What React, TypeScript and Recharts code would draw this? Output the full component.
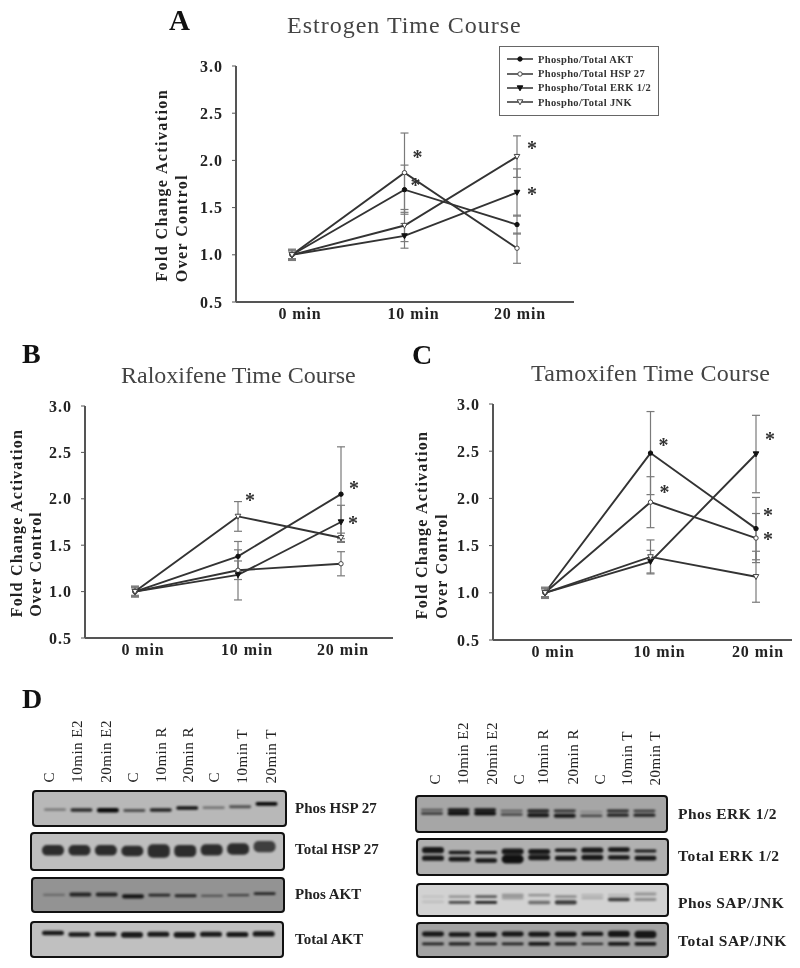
import React from "react";
import { LineChart, Line, XAxis, YAxis, ErrorBar, ReferenceDot, Legend, BarChart, Bar, Cell } from "recharts";

const SERIF = "'Liberation Serif', serif";
const INK = "#222";

const times = ["0 min", "10 min", "20 min"];
const foldTicks = [0.5, 1, 1.5, 2, 2.5, 3];

// panel A
const estrogenAkt = [1, 1.69, 1.32];
const estrogenAktErr = [0.05, 0.26, 0.1];
const estrogenHsp = [1, 1.87, 1.07];
const estrogenHspErr = [0.05, 0.42, 0.16];
const estrogenErk = [1, 1.2, 1.66];
const estrogenErkErr = [0.04, 0.13, 0.25];
const estrogenJnk = [1, 1.31, 2.04];
const estrogenJnkErr = [0.06, 0.17, 0.22];
const estrogenStarTimes = ["10 min", "10 min", "20 min", "20 min"];
const estrogenStarValues = [2.06, 1.76, 2.15, 1.67];

// panel B
const raloxAkt = [1, 1.38, 2.05];
const raloxAktErr = [0.05, 0.16, 0.51];
const raloxHsp = [1, 1.23, 1.3];
const raloxHspErr = [0.05, 0.1, 0.13];
const raloxErk = [1, 1.18, 1.75];
const raloxErkErr = [0.04, 0.27, 0.18];
const raloxJnk = [1, 1.81, 1.58];
const raloxJnkErr = [0.06, 0.16, 0.05];
const raloxStarTimes = ["10 min", "20 min", "20 min"];
const raloxStarValues = [2.01, 2.14, 1.76];

// panel C
const tamoxAkt = [1, 2.48, 1.68];
const tamoxAktErr = [0.05, 0.44, 0.33];
const tamoxHsp = [1, 1.96, 1.58];
const tamoxHspErr = [0.05, 0.27, 0.26];
const tamoxErk = [1, 1.33, 2.47];
const tamoxErkErr = [0.04, 0.12, 0.41];
const tamoxJnk = [1, 1.38, 1.17];
const tamoxJnkErr = [0.06, 0.18, 0.27];
const tamoxStarTimes = ["10 min", "10 min", "20 min", "20 min", "20 min"];
const tamoxStarValues = [2.59, 2.09, 2.65, 1.85, 1.59];

const seriesNames = ["Phospho/Total AKT", "Phospho/Total HSP 27", "Phospho/Total ERK 1/2", "Phospho/Total JNK"];
const seriesKeys = ["akt", "hsp", "erk", "jnk"];

// panel D: each band is [position in blot, thickness, darkness], one value per lane
const laneLabels = ["C", "10min E2", "20min E2", "C", "10min R", "20min R", "C", "10min T", "20min T"];
const phosHsp27 = [[
  [45, 44, 43, 42, 44, 50, 51, 54, 63],
  [7, 11, 14, 9, 11, 11, 7, 9, 12],
  [0.4, 0.8, 1, 0.6, 0.85, 0.95, 0.45, 0.6, 1],
]];
const totalHsp27 = [[
  [52, 52, 52, 50, 50, 50, 53, 56, 63],
  [31, 31, 31, 31, 39, 36, 33, 34, 33],
  [0.8, 0.8, 0.8, 0.8, 0.8, 0.8, 0.8, 0.8, 0.7],
]];
const phosAkt = [[
  [49, 50, 50, 44, 48, 46, 46, 48, 53],
  [7, 13, 13, 13, 9, 9, 7, 7, 9],
  [0.3, 0.8, 0.8, 0.9, 0.8, 0.8, 0.5, 0.6, 0.8],
]];
const totalAkt = [[
  [69, 64, 65, 63, 65, 63, 65, 64, 66],
  [14, 14, 14, 18, 16, 18, 16, 16, 16],
  [0.9, 0.9, 0.9, 0.9, 0.9, 0.9, 0.9, 0.9, 0.9],
]];
const phosErk = [
  [
    [61, 61, 61, 58, 58, 58, 55, 58, 58],
    [7, 10, 10, 6, 10, 8, 4, 8, 7],
    [0.5, 0.9, 0.9, 0.5, 0.85, 0.75, 0.3, 0.8, 0.75],
  ],
  [
    [50, 50, 50, 47, 45, 43, 43, 45, 45],
    [7, 12, 12, 8, 12, 12, 6, 10, 10],
    [0.75, 0.95, 0.95, 0.65, 0.9, 0.9, 0.75, 0.85, 0.85],
  ],
];
const totalErk = [
  [
    [69, 62, 62, 65, 65, 69, 69, 71, 67],
    [19, 11, 9, 18, 16, 11, 16, 14, 9],
    [0.9, 0.9, 0.9, 0.9, 0.9, 0.9, 0.9, 0.9, 0.9],
  ],
  [
    [45, 42, 38, 42, 47, 45, 47, 47, 45],
    [16, 14, 14, 27, 16, 14, 16, 14, 14],
    [0.9, 0.9, 0.9, 0.95, 0.9, 0.9, 0.9, 0.9, 0.9],
  ],
];
const phosSap = [
  [
    [60, 60, 60, 65, 65, 60, 65, 65, 69],
    [6, 8, 10, 10, 8, 10, 8, 8, 10],
    [0.1, 0.35, 0.6, 0.3, 0.35, 0.35, 0.15, 0.15, 0.3],
  ],
  [
    [42, 40, 40, 55, 40, 40, 55, 50, 50],
    [8, 10, 10, 10, 12, 14, 8, 12, 10],
    [0.1, 0.7, 0.9, 0.25, 0.5, 0.75, 0.2, 0.75, 0.35],
  ],
];
const totalSap = [
  [
    [68, 66, 66, 68, 67, 67, 68, 68, 66],
    [16, 14, 16, 16, 16, 16, 14, 20, 24],
    [0.9, 0.9, 0.9, 0.9, 0.9, 0.9, 0.9, 0.9, 0.9],
  ],
  [
    [36, 36, 36, 36, 36, 36, 36, 36, 36],
    [9, 10, 9, 9, 12, 10, 7, 12, 12],
    [0.85, 0.85, 0.85, 0.85, 0.9, 0.85, 0.8, 0.9, 0.9],
  ],
];

const buildRows = (s: number[][]) =>
  times.map((time, i) => ({
    time,
    akt: s[0][i], aktErr: s[1][i],
    hsp: s[2][i], hspErr: s[3][i],
    erk: s[4][i], erkErr: s[5][i],
    jnk: s[6][i], jnkErr: s[7][i],
  }));

const drawMarker = (key: string, cx: number, cy: number, id?: string) => {
  if (key === "akt") return <circle key={id} cx={cx} cy={cy} r={2.2} fill="#111" stroke="#111" />;
  if (key === "hsp") return <circle key={id} cx={cx} cy={cy} r={2.2} fill="#fff" stroke="#444" />;
  const pts = `${cx - 2.8},${cy - 2.2} ${cx + 2.8},${cy - 2.2} ${cx},${cy + 2.8}`;
  if (key === "erk") return <polygon key={id} points={pts} fill="#111" stroke="#111" />;
  return <polygon key={id} points={pts} fill="#fff" stroke="#444" />;
};

function LegendBox({ payload }: any) {
  return (
    <div style={{ boxSizing: "border-box", width: 160, height: 70, border: "1.5px solid #666", background: "#fff", paddingTop: 5 }}>
      {(payload || []).map((p: any) => (
        <div key={p.dataKey} style={{ display: "flex", alignItems: "center", height: 14.4, paddingLeft: 7 }}>
          <svg width={26} height={10} style={{ flex: "none" }}>
            <line x1={0} x2={26} y1={5} y2={5} stroke="#333" strokeWidth={1.5} />
            {drawMarker(p.dataKey, 13, 5)}
          </svg>
          <span style={{ marginLeft: 5, fontFamily: SERIF, fontSize: 10.5, fontWeight: 700, color: "#333", whiteSpace: "nowrap", letterSpacing: 0.35 }}>
            {p.value}
          </span>
        </div>
      ))}
    </div>
  );
}

function TimeCourse({ box, axisLeft, plotTop, plotHeight, axisEnd, pad, tickDx, values, starTimes, starValues, starDx, legend }: any) {
  const rows = buildRows(values);
  const XTick = ({ x, y, payload }: any) => (
    <text x={x + tickDx[payload.index]} y={y + 9} textAnchor="middle" fontFamily={SERIF} fontSize={16} fontWeight={700} letterSpacing={0.9} fill={INK}>
      {payload.value}
    </text>
  );
  return (
    <div style={{ position: "absolute", left: box.left, top: box.top }}>
      <LineChart
        width={box.width}
        height={box.height}
        data={rows}
        margin={{ top: plotTop, left: 0, right: box.width - axisEnd, bottom: box.height - plotTop - plotHeight - 30 }}
      >
        <XAxis
          dataKey="time"
          scale="point"
          padding={pad}
          height={30}
          tick={<XTick />}
          tickLine={false}
          axisLine={{ stroke: "#555", strokeWidth: 2 }}
        />
        <YAxis
          type="number"
          width={axisLeft}
          domain={[0.5, 3]}
          ticks={foldTicks}
          tickFormatter={(v: number) => v.toFixed(1)}
          tickSize={4}
          tickMargin={9}
          interval={0}
          tick={{ fontFamily: SERIF, fontSize: 16, fontWeight: 700, fill: INK, letterSpacing: 1 }}
          tickLine={{ stroke: "#555" }}
          axisLine={{ stroke: "#555", strokeWidth: 2 }}
        />
        {legend && (
          <Legend
            layout="horizontal"
            verticalAlign="middle"
            align="center"
            itemSorter={null}
            content={<LegendBox />}
            wrapperStyle={{ position: "absolute", left: 349, top: 6, width: 160, height: 70 }}
          />
        )}
        {seriesKeys.map((key, i) => (
          <Line
            key={key}
            dataKey={key}
            name={seriesNames[i]}
            stroke="#333"
            strokeWidth={1.9}
            type="linear"
            isAnimationActive={false}
            dot={(p: any) => drawMarker(key, p.cx, p.cy, `${key}-${p.index}`)}
          >
            <ErrorBar dataKey={`${key}Err`} direction="y" width={4} stroke="#7a7a7a" strokeWidth={1.2} isAnimationActive={false} />
          </Line>
        ))}
        {starValues.map((v: number, i: number) => (
          <ReferenceDot
            key={i}
            x={starTimes[i]}
            y={v}
            r={0}
            ifOverflow="visible"
            shape={(p: any) => (
              <text x={p.cx + starDx[i]} y={p.cy + 9} textAnchor="middle" fontFamily={SERIF} fontSize={20} fontWeight={700} fill="#333">*</text>
            )}
          />
        ))}
      </LineChart>
    </div>
  );
}

function Blot({ frame, bands, fill, inset }: any) {
  const w = frame.right - frame.left;
  const h = frame.bottom - frame.top;
  const rows = laneLabels.map((_, lane) => {
    const row: any = { lane };
    bands.forEach((b: number[][], k: number) => {
      row[`band${k}`] = [b[0][lane] - b[1][lane] / 2, b[0][lane] + b[1][lane] / 2];
    });
    return row;
  });
  return (
    <div style={{ position: "absolute", left: frame.left, top: frame.top, width: w, height: h, boxSizing: "border-box", border: "2.5px solid #111", borderRadius: 4, background: fill, overflow: "hidden" }}>
      <div style={{ filter: "blur(0.9px)" }}>
        <BarChart width={w - 5} height={h - 5} data={rows} margin={{ top: 0, bottom: 0, left: inset[0], right: inset[1] }} barSize={22} barGap={-22}>
          <XAxis dataKey="lane" hide />
          <YAxis hide domain={[0, 100]} />
          {bands.map((b: number[][], k: number) => (
            <Bar key={k} dataKey={`band${k}`} fill="#080808" radius={5} isAnimationActive={false}>
              {laneLabels.map((_, lane) => (
                <Cell key={lane} fillOpacity={b[2][lane]} />
              ))}
            </Bar>
          ))}
        </BarChart>
      </div>
    </div>
  );
}

const Text = ({ x, y, size, bold, color, spacing, children }: any) => (
  <div style={{ position: "absolute", left: x, top: y, transform: "translateY(-50%)", fontFamily: SERIF, fontSize: size, fontWeight: bold ? 700 : 400, color: color || INK, letterSpacing: spacing || 0, whiteSpace: "nowrap", lineHeight: 1 }}>
    {children}
  </div>
);

// vertical text read bottom to top, x is the line centre and bottom the text start
const VText = ({ x, bottom, size, bold, spacing, children }: any) => (
  <div style={{ position: "absolute", left: x - size / 2, bottom: 968 - bottom, writingMode: "vertical-rl", transform: "rotate(180deg)", fontFamily: SERIF, fontSize: size, fontWeight: bold ? 700 : 400, color: INK, letterSpacing: spacing || 0, whiteSpace: "nowrap", lineHeight: 1 }}>
    {children}
  </div>
);

const leftBlots = [
  { frame: { left: 32, right: 287, top: 790, bottom: 827 }, bands: phosHsp27, fill: "#b8b8b8", name: "Phos HSP 27", labelY: 808 },
  { frame: { left: 30, right: 285, top: 832, bottom: 871 }, bands: totalHsp27, fill: "#bebebe", name: "Total HSP 27", labelY: 849 },
  { frame: { left: 31, right: 285, top: 877, bottom: 913 }, bands: phosAkt, fill: "#939393", name: "Phos AKT", labelY: 894 },
  { frame: { left: 30, right: 284, top: 921, bottom: 958 }, bands: totalAkt, fill: "#c0c0c0", name: "Total AKT", labelY: 939 },
];
const rightBlots = [
  { frame: { left: 415, right: 668, top: 795, bottom: 833 }, bands: phosErk, fill: "#a6a6a6", name: "Phos ERK 1/2", labelY: 814 },
  { frame: { left: 416, right: 669, top: 838, bottom: 876 }, bands: totalErk, fill: "#b0b0b0", name: "Total ERK 1/2", labelY: 856 },
  { frame: { left: 416, right: 669, top: 883, bottom: 917 }, bands: phosSap, fill: "#d2d2d2", name: "Phos SAP/JNK", labelY: 903 },
  { frame: { left: 416, right: 669, top: 922, bottom: 958 }, bands: totalSap, fill: "#a2a2a2", name: "Total SAP/JNK", labelY: 941 },
];
const leftLaneX = [49, 77, 106, 133, 161, 188, 214, 242, 271];
const rightLaneX = [435, 463, 492, 519, 543, 573, 600, 627, 655];

export default function App() {
  return (
    <div style={{ position: "absolute", left: 0, top: 0, width: 800, height: 968, background: "#fff", overflow: "hidden", filter: "blur(0.6px)" }}>
      <Text x={169} y={20} size={29} bold color="#111">A</Text>
      <Text x={287} y={25} size={24} color="#444" spacing={1}>Estrogen Time Course</Text>
      <VText x={162} bottom={282} size={16} bold spacing={1.4}>Fold Change Activation</VText>
      <VText x={182} bottom={282} size={16} bold spacing={1.4}>Over Control</VText>
      <TimeCourse
        box={{ left: 150, top: 40, width: 520, height: 300 }}
        axisLeft={86}
        plotTop={26}
        plotHeight={236}
        axisEnd={424}
        pad={{ left: 56, right: 57 }}
        tickDx={[8, 9, 3]}
        values={[estrogenAkt, estrogenAktErr, estrogenHsp, estrogenHspErr, estrogenErk, estrogenErkErr, estrogenJnk, estrogenJnkErr]}
        starTimes={estrogenStarTimes}
        starValues={estrogenStarValues}
        starDx={[13, 11, 15, 15]}
        legend
      />

      <Text x={22} y={354} size={28} bold color="#111">B</Text>
      <Text x={121} y={375} size={24} color="#444">Raloxifene Time Course</Text>
      <VText x={17} bottom={617} size={16} bold spacing={1.2}>Fold Change Activation</VText>
      <VText x={36} bottom={617} size={16} bold spacing={1.2}>Over Control</VText>
      <TimeCourse
        box={{ left: 0, top: 390, width: 400, height: 290 }}
        axisLeft={85}
        plotTop={16}
        plotHeight={232}
        axisEnd={393}
        pad={{ left: 50, right: 52 }}
        tickDx={[8, 9, 2]}
        values={[raloxAkt, raloxAktErr, raloxHsp, raloxHspErr, raloxErk, raloxErkErr, raloxJnk, raloxJnkErr]}
        starTimes={raloxStarTimes}
        starValues={raloxStarValues}
        starDx={[12, 13, 12]}
      />

      <Text x={412} y={355} size={28} bold color="#111">C</Text>
      <Text x={531} y={373} size={24} color="#444" spacing={0.3}>Tamoxifen Time Course</Text>
      <VText x={422} bottom={619} size={16} bold spacing={1.2}>Fold Change Activation</VText>
      <VText x={442} bottom={619} size={16} bold spacing={1.2}>Over Control</VText>
      <TimeCourse
        box={{ left: 400, top: 390, width: 400, height: 290 }}
        axisLeft={93}
        plotTop={14}
        plotHeight={236}
        axisEnd={392}
        pad={{ left: 52, right: 36 }}
        tickDx={[8, 9, 2]}
        values={[tamoxAkt, tamoxAktErr, tamoxHsp, tamoxHspErr, tamoxErk, tamoxErkErr, tamoxJnk, tamoxJnkErr]}
        starTimes={tamoxStarTimes}
        starValues={tamoxStarValues}
        starDx={[13, 14, 14, 12, 12]}
      />

      <Text x={22} y={699} size={28} bold color="#111">D</Text>
      {laneLabels.map((label, i) => (
        <VText key={`l${i}`} x={leftLaneX[i]} bottom={783} size={15} spacing={0.5}>{label}</VText>
      ))}
      {laneLabels.map((label, i) => (
        <VText key={`r${i}`} x={rightLaneX[i]} bottom={785} size={15} spacing={0.5}>{label}</VText>
      ))}
      {leftBlots.map((b) => (
        <React.Fragment key={b.name}>
          <Blot frame={b.frame} bands={b.bands} fill={b.fill} inset={[8, 4]} />
          <Text x={295} y={b.labelY} size={15} bold>{b.name}</Text>
        </React.Fragment>
      ))}
      {rightBlots.map((b) => (
        <React.Fragment key={b.name}>
          <Blot frame={b.frame} bands={b.bands} fill={b.fill} inset={[2, 7]} />
          <Text x={678} y={b.labelY} size={15.5} bold spacing={0.5}>{b.name}</Text>
        </React.Fragment>
      ))}
    </div>
  );
}
